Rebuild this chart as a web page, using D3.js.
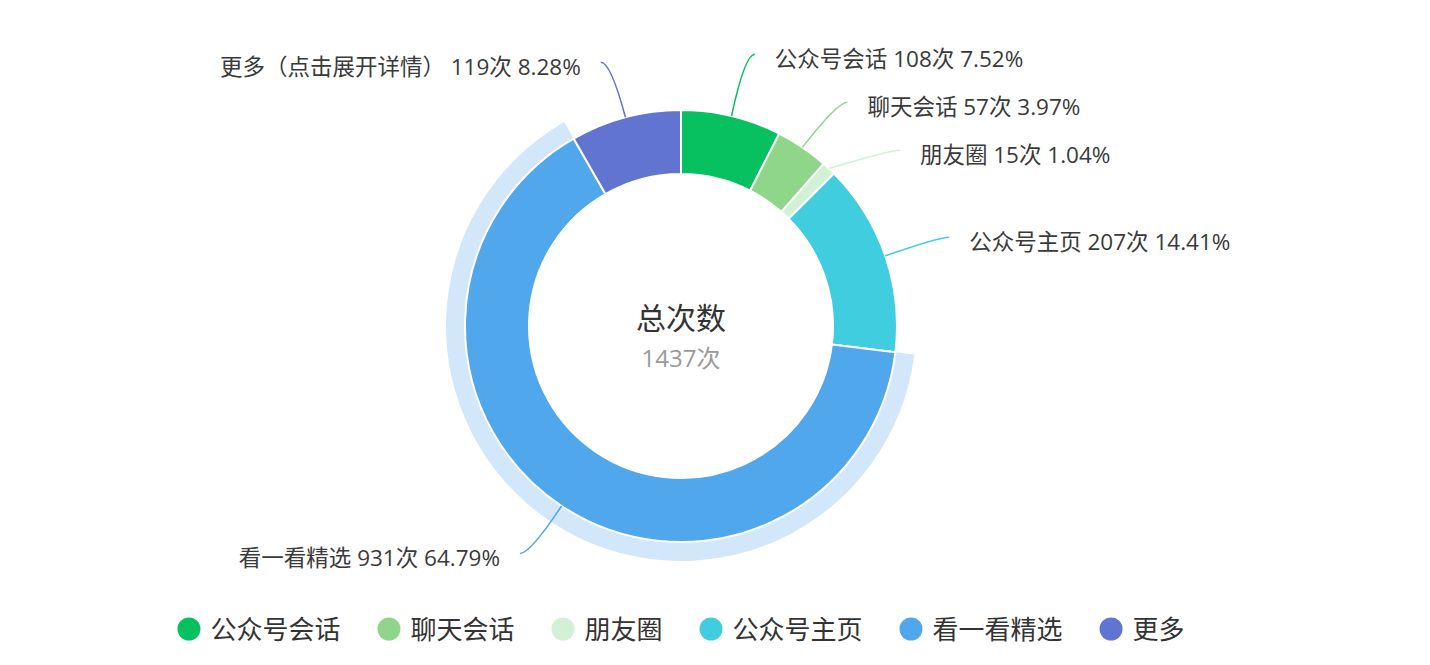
<!DOCTYPE html>
<html><head><meta charset="utf-8">
<script src="https://cdn.jsdelivr.net/npm/d3@7/dist/d3.min.js"></script>
<style>
html,body{margin:0;padding:0;background:#fff;}
svg{display:block;font-family:"Open Sans","Noto Sans CJK SC","Noto Sans",sans-serif;}
</style></head>
<body>
<svg id="chart" width="1430" height="665"></svg>
<script>
const categories = ['公众号会话','聊天会话','朋友圈','公众号主页','看一看精选','更多'];
const labelNames = ['公众号会话','聊天会话','朋友圈','公众号主页','看一看精选','更多（点击展开详情）'];
const values = [108, 57, 15, 207, 931, 119];
const colors = ['#07c160','#8fd68b','#d2f0d4','#40cde0','#50a7eb','#6174cf'];
const highlightIndex = 4;
const centerTitle = '总次数';
const unit = '次';

const W = 1430, H = 665;
const cx = 681, cy = 326;
const R = 216, r0 = 152, RH = 235;
const svg = d3.select('#chart');
const total = d3.sum(values);

const pie = d3.pie().sort(null).value(d => d)(values);
const arc = d3.arc().innerRadius(r0).outerRadius(R);
const g = svg.append('g').attr('transform', `translate(${cx},${cy})`);

// highlight ring
const hp = pie[highlightIndex];
g.append('path')
  .attr('d', d3.arc().innerRadius(R - 2).outerRadius(RH)({startAngle: hp.startAngle, endAngle: hp.endAngle}))
  .attr('fill', '#d3e7fa');

g.selectAll('path.slice').data(pie).join('path')
  .attr('class', 'slice')
  .attr('d', arc)
  .attr('fill', (d, i) => colors[i])
  .attr('stroke', '#fff').attr('stroke-width', 2).attr('stroke-linejoin', 'round');

// labels
const rl = 273, len2 = 10, minGap = 48;
const labels = pie.map((d, i) => {
  const a = (d.startAngle + d.endAngle) / 2;
  const right = Math.sin(a) >= 0;
  return {i, a, right,
    sx: R * Math.sin(a), sy: -R * Math.cos(a),
    nx: rl * Math.sin(a), ny: -rl * Math.cos(a), y: -rl * Math.cos(a)};
});
[true, false].forEach(side => {
  const arr = labels.filter(l => l.right === side).sort((a, b) => a.ny - b.ny);
  for (let k = 1; k < arr.length; k++) arr[k].y = Math.max(arr[k].ny, arr[k-1].y + minGap);
  let start = 0;
  for (let k = 1; k <= arr.length; k++) {
    if (k === arr.length || arr[k].y > arr[k-1].y + minGap + 0.01) {
      const cl = arr.slice(start, k);
      if (cl.length > 1) {
        const md = d3.mean(cl, l => l.y - l.ny);
        cl.forEach(l => l.y -= md / 2);
      }
      start = k;
    }
  }
});
labels.forEach(l => {
  const dy = l.y;
  const circ = Math.sqrt(Math.max(0, rl * rl - dy * dy));
  if (l.right) l.px = Math.max(l.nx, circ);
  else l.px = Math.min(l.nx, -circ);
  l.ex = l.px + (l.right ? len2 : -len2);
});

labels.forEach(l => {
  const p = d3.path();
  p.moveTo(l.sx, l.sy);
  p.quadraticCurveTo(l.px, l.y, l.ex, l.y);
  g.append('path').attr('d', p.toString())
    .attr('fill', 'none').attr('stroke', colors[l.i]).attr('stroke-width', 1.5);
  const v = values[l.i];
  const pct = (v / total * 100).toFixed(2);
  g.append('text')
    .attr('x', l.ex + (l.right ? 20 : -20))
    .attr('y', l.y + 4)
    .attr('dominant-baseline', 'central')
    .attr('text-anchor', l.right ? 'start' : 'end')
    .attr('font-size', 22.5)
    .attr('fill', '#3a3a3a')
    .text(`${labelNames[l.i]} ${v}${unit} ${pct}%`);
});

// center text
g.append('text').attr('x', 0).attr('y', -9).attr('text-anchor', 'middle')
  .attr('dominant-baseline', 'central').attr('font-size', 30).attr('fill', '#333')
  .text(centerTitle);
g.append('text').attr('x', 0).attr('y', 31).attr('text-anchor', 'middle')
  .attr('dominant-baseline', 'central').attr('font-size', 24).attr('fill', '#9a9a9a')
  .text(total + unit);

// legend
const leg = svg.append('g');
const items = leg.selectAll('g').data(categories).join('g');
items.append('circle').attr('r', 11.5).attr('cx', 11.5).attr('cy', 0).attr('fill', (d, i) => colors[i]);
items.append('text').attr('x', 33).attr('y', 0).attr('dominant-baseline', 'central')
  .attr('font-size', 26).attr('fill', '#333').text(d => d);
let xoff = 0;
const gapItem = 37;
items.each(function() {
  const w = 33 + d3.select(this).select('text').node().getComputedTextLength();
  d3.select(this).attr('transform', `translate(${xoff},0)`);
  xoff += w + gapItem;
});
const legW = xoff - gapItem;
leg.attr('transform', `translate(${cx - legW / 2},629)`);
</script>
</body></html>
